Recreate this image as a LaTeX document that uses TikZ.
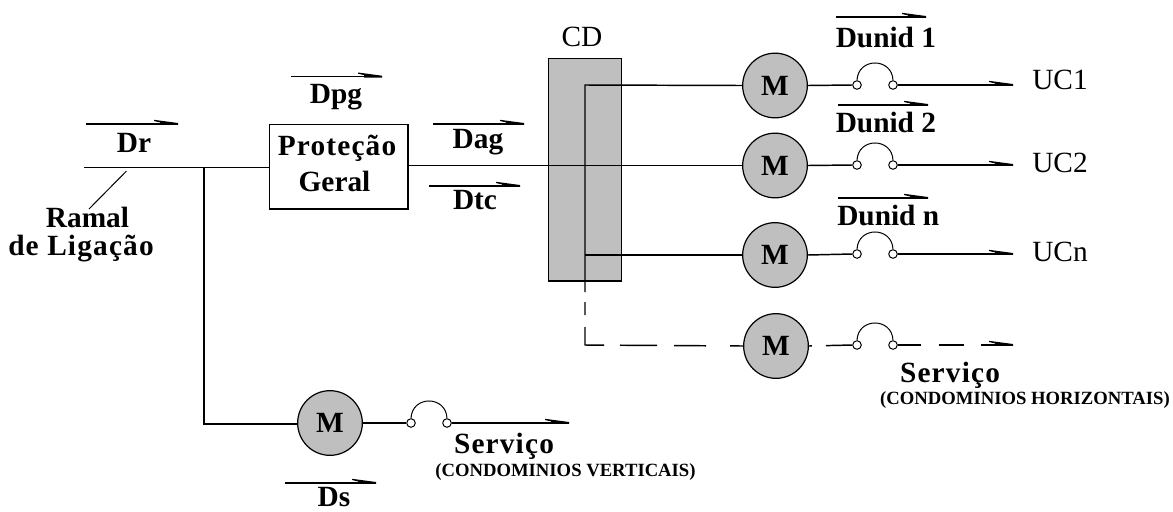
\documentclass[tikz,border=0pt]{standalone}
\usepackage{fontspec}
\setmainfont{Liberation Serif}
\usetikzlibrary{calc}
\begin{document}
\begin{tikzpicture}[x=0.75pt,y=-0.75pt,
  wire/.style={draw=black,line width=1.1pt},
  thinwire/.style={draw=black,line width=0.75pt},
  meter/.style={circle,draw=black,line width=0.9pt,fill=black!25,minimum size=48.5pt,inner sep=0pt,font=\fontsize{22}{24}\selectfont\bfseries},
  term/.style={circle,draw=black,line width=0.75pt,fill=white,minimum size=6.4pt,inner sep=0pt},
  lab/.style={inner sep=0pt,font=\fontsize{22}{24}\selectfont\bfseries},
  widelab/.style={inner sep=0pt,font=\fontsize{22}{24}\selectfont\bfseries\addfontfeature{LetterSpace=4}},
  reglab/.style={inner sep=0pt,font=\fontsize{22}{24}\selectfont},
  small/.style={inner sep=0pt,font=\fontsize{14}{16}\selectfont\bfseries},
  barb/.pic={\fill[black] (-24,-4.2) -- (-18,-3.4) -- (0,-1) -- (0,0.8) -- (-18,0.8) -- (-18,-1.6) -- (-24,-3) -- cycle;}
]
\useasboundingbox (0,0) rectangle (1173,511);
% CD panel
\node[draw=black,line width=1pt,fill=black!25,minimum width=55.2pt,minimum height=167pt,inner sep=0pt] (cd) at (585,169.5) {};
\node[reglab] (cdl) at (582,37) {CD};
% protection box
\node[draw=black,line width=1pt,fill=white,minimum width=104pt,minimum height=63.5pt,inner sep=0pt] (pg) at (338.5,166.5) {};
\node[widelab] (pg1) at (337,148) {Proteção};
\node[lab] (pg2) at (334.5,181) {Geral};
% meters
\node[meter] (m1) at (775,85.5) {M};
\node[meter] (m2) at (775,165.5) {M};
\node[meter] (m3) at (775,255) {M};
\node[meter] (m4) at (776,346) {M};
\node[meter] (m5) at (330,423) {M};
% switch terminals
\foreach \n/\y in {1/85,2/165,3/254,4/345}{
  \node[term] (sa\n) at (857,\y) {};
  \node[term] (sb\n) at (893,\y) {};
}
\node[term] (sa5) at (411,423) {};
\node[term] (sb5) at (447,423) {};
\foreach \n in {1,...,5}{
  \draw[thinwire] (sa\n.north) .. controls ($(sa\n.north)+(1,-23)$) and ($(sb\n.north)+(-1,-23)$) .. (sb\n.north);
}
% free ends
\coordinate (rs) at (84,167.5);
\coordinate (tee) at (204,167.5);
\coordinate (tee2) at (204,424);
\coordinate (bus1) at (585,85);
\coordinate (bus3) at (585,255);
\coordinate (bus4) at (585,292);
\coordinate (corner) at (585,345);
\coordinate (e1) at (1013,85);
\coordinate (e2) at (1013,165);
\coordinate (e3) at (1013,254);
\coordinate (e4) at (1013,345);
\coordinate (e5) at (569,423);
% wiring
\draw[wire] (rs) -- (tee) -- (pg.west |- tee);
\draw[wire] (tee) -- (tee2) -- (m5.west |- tee2);
\draw[wire] (pg.east |- m2) -- (m2.west);
\draw[wire] (m5.east) -- (sa5.west);
\draw[wire] (sb5.east) -- (e5) pic {barb};
\draw[wire] (bus4) -- (bus1) -- (m1.west);
\draw[wire] (bus3) -- (m3.west);
\foreach \n in {1,2,3}{
  \draw[wire] (m\n.east) -- (sa\n.west);
  \draw[wire] (sb\n.east) -- (e\n) pic {barb};
}
\draw[wire,dash pattern=on 0pt off 7.5pt on 9.75pt off 9pt on 27.75pt off 12pt on 27.75pt off 12.75pt on 24pt off 18pt on 12pt off 40pt] (bus4) -- (corner) -- (m4.west);
\draw[wire,dash pattern=on 2.25pt off 10.5pt on 30pt] (m4.east) -- (sa4.west);
\draw[wire,dash pattern=on 17.25pt off 13.5pt on 18.75pt off 12.75pt on 30pt] (sb4.east) -- (e4) pic {barb};
% Ramal leader
\coordinate (ll) at (126.5,171);
\node[lab] (ram1) at (87.5,217) {Ramal};
\node[widelab] (ram2) at (81,249) {de Ligação};
\coordinate (lr) at (89,209);
\draw[thinwire] (ll) -- (lr);
% current bars
\foreach \nm/\xa/\xb/\yy in {dr/86/178/124,dpg/291/382/76.7,dag/433/524/124,dtc/429/520/186,du1/835.5/926/17,du2/838/928/105,dun/838/928/198,ds/285/376/483}{
  \coordinate (\nm a) at (\xa,\yy);
  \coordinate (\nm b) at (\xb,\yy);
  \draw[wire] (\nm a) -- (\nm b) pic {barb};
}
% labels
\node[lab] (tdr) at (134,143) {Dr};
\node[lab] (tdpg) at (336,97) {Dpg};
\node[lab] (tdag) at (478,142) {Dag};
\node[lab] (tdtc) at (475,200) {Dtc};
\node[lab,anchor=west] (tdu1) at (835.5,37) {Dunid 1};
\node[lab,anchor=west] (tdu2) at (835.5,122) {Dunid 2};
\node[lab,anchor=west] (tdun) at (837,215) {Dunid n};
\node[reglab,anchor=west] (uc1) at (1032,80) {UC1};
\node[reglab,anchor=west] (uc2) at (1032,163) {UC2};
\node[reglab,anchor=west] (ucn) at (1032,252) {UCn};
\node[widelab] (sv1) at (504,446) {Serviço};
\node[small] (sv1b) at (565.5,472) {(CONDOMINIOS VERTICAIS)};
\node[lab] (tds) at (334,497.5) {Ds};
\node[widelab] (sv2) at (950,375) {Serviço};
\node[small] (sv2b) at (1025,400) {(CONDOMINIOS HORIZONTAIS)};
\end{tikzpicture}
\end{document}
